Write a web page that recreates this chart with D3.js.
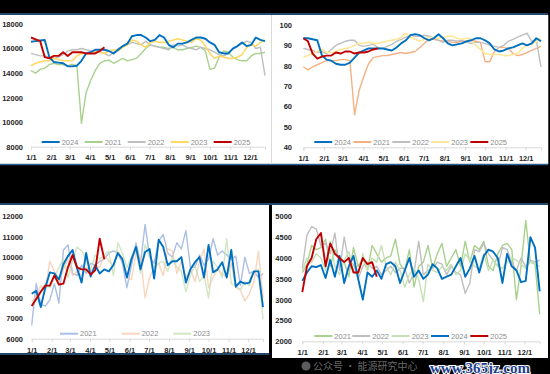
<!DOCTYPE html>
<html><head><meta charset="utf-8">
<script src="https://cdn.jsdelivr.net/npm/d3@7"></script>
<style>html,body{margin:0;padding:0;background:#000;}svg{display:block}</style>
</head><body>
<svg id="c" width="550" height="374"></svg>
<script>
// ---------- data ----------
const monthLabels = ["1/1","2/1","3/1","4/1","5/1","6/1","7/1","8/1","9/1","10/1","11/1","12/1"];
const monthStartDays = [0,31,59,90,120,151,181,212,243,273,304,334];

// Panel 1 (top-left)
const p1Ticks = [8000,10000,12000,14000,16000,18000];
const p1_2024 = [16550,16600,16650,16700,15300,14900,14850,14800,14550,14550,14600,15000,
  15600,15700,15900,15900,15900,15800,15600,15900,16200,16400,
  17000,17100,17100,16900,16600,16700,17100,16900,16300,16100,
  16400,16400,16500,16700,16900,16900,16800,16500,16300,15700,
  15600,15600,16000,16200,16500,16200,16300,16900,16700,16600];
const p1_2021 = [14200,14000,14300,14400,14700,14800,14700,14700,14600,14700,14600,9900,
  12400,13400,14200,14800,15000,15050,14800,15000,15200,15000,
  15100,15200,15600,16000,16300,16200,16100,16100,16000,16100,
  15900,15900,16000,16100,16200,16100,15800,14300,14400,15300,
  15800,15700,15300,15100,15000,15000,15400,15600,15600,15700];
const p1_2022 = [15600,15500,15400,15400,15300,15200,15300,15500,15800,15900,15900,16000,
  15900,15800,15800,15700,15600,15400,15700,16000,16200,16300,
  16500,16400,16300,16600,16300,16200,16100,16000,15900,16300,
  16200,16300,16100,16000,15900,16100,16000,15900,15700,15500,
  15400,15600,16000,16200,16400,16600,16500,16000,16100,13800];
const p1_2023 = [14600,14800,14900,15000,15000,15200,15100,15000,15000,15000,15400,15600,
  15600,15700,15700,15700,15600,15800,15900,15800,16100,16300,
  16700,16600,16300,16100,16500,16600,16500,16500,16600,16700,
  16800,16700,16600,16500,16800,16700,16200,15600,15200,15400,
  15300,15200,15200,15300,15500,16100,16300,16200,16500,16700];
const p1_2025 = [16900,16750,16600,15300,15200,15400,15400,15700,15400,15700,15700,15700,15600,15600,15600,15800,16100];

// Panel 2 (top-right)
const p2Ticks = [40,50,60,70,80,90,100];
const p2_2024 = [93.5,93.5,93,92.5,85,83,82.5,81,80.5,80.5,81.5,84,
  86.5,87.5,88.5,88.5,88.5,88.5,88,87.5,89,91,
  92.5,95,95.5,95,93.5,92.5,93.5,95.5,93.5,91,
  90,90.5,91,92,92.5,93.5,93.5,92.5,91,88,
  87,87.5,88.5,89,90,91,90,91,93.5,92];
const p2_2021 = [79.5,78,79.5,80.5,81.5,82.5,82.5,82.5,83,83,82.5,56,
  68,75,81,84,84.5,85,85,85.5,86,86.5,
  86,86.5,87,89,91,93,93,92.5,92,92,
  91.5,91.5,92,92,92.5,92,91.5,82,82,87,
  89,89,88.5,86,85,85.5,86.5,87.5,88.5,89.5];
const p2_2022 = [88.5,88,87.5,86.5,87,86,88,90,91,92,92.5,92.5,
  90,89.5,90,90.5,89,88.5,89.5,90.5,92,93,
  94,95,94.5,94.5,95,94.5,93.5,92.5,91.5,92.5,
  92.5,92,92.5,91.5,91,91.5,91.5,91,90,89.5,
  89,90,92,93,94,95,96,92,92.5,79.5];
const p2_2023 = [84,85,86,87,88,86.5,86.5,87,88,88.5,89,90,
  91,91,91.5,91,91,91.5,92,92.5,93,94,
  96,94,93,92,93,94,93.5,93.5,94,94.5,
  94.5,93.5,93,93.5,93,90,88,86,85.5,85.5,
  85.5,85,85,85.5,86,88.5,90,90.5,92,93.5];
const p2_2025 = [93.5,92,86,83.5,84.5,85,85,86.5,86,87,87,86,86.5,86.5,87,88,88.5];

// Panel 3 (bottom-left)
const p3Ticks = [6000,7000,8000,9000,10000,11000,12000];
const p3_2024 = [8200,8350,7550,8500,9250,9200,8900,9650,10050,10350,9450,8750,
  10200,9050,9600,9200,9400,9300,9600,10200,9900,9000,
  9900,10500,9400,10250,10400,8950,10850,10500,9600,9800,
  9800,10000,8750,9400,9750,10000,9000,10600,9250,9400,
  9750,9000,10350,8550,8800,8700,8750,9300,9300,7550];
const p3_2021 = [6650,8700,7700,7600,7900,8700,7750,10350,10600,9200,9100,9600,
  9200,9700,9600,9800,9900,10200,10300,10200,9700,8500,
  9600,10700,9700,11600,10000,9700,10800,11100,10200,10000,
  10700,10400,11300,9500,9500,10100,9600,9900,10900,10100,
  10300,10100,9900,10050,8600,10000,9200,9300,9000,9200];
const p3_2022 = [7800,8100,8600,8400,9800,9300,8700,9400,9900,9100,9300,9100,
  9500,9300,9600,9500,10100,9800,9600,10300,9800,9000,
  8900,10200,10000,8000,9000,9500,9700,9100,10400,10300,
  9200,9800,9000,9400,8800,9800,10400,8500,9000,9400,
  9200,9000,9700,8500,8400,7850,8200,8800,10300,8000];
const p3_2023 = [7600,8000,8300,8700,8500,9000,9500,9900,9000,9800,10500,10300,
  9900,9400,10100,9900,10100,10300,9100,10700,10200,9500,
  10000,10300,9200,10600,10000,9500,9700,9800,9300,10000,
  9500,9300,8300,9100,9600,8800,9100,8000,9800,9500,
  9000,10900,8700,8600,8400,8800,8600,9300,9400,6950];
const p3_2025 = [7600,7950,8300,8600,8600,9100,8650,8700,9500,10100,9500,9400,9400,9150,9350,10900,9900];

// Panel 4 (bottom-right)
const p4Ticks = [2000,2500,3000,3500,4000,4500,5000];
const p4_2024 = [3450,3650,3800,3780,3830,3520,3950,3550,4050,3400,3800,4050,
  3500,3000,3650,3550,3700,3500,3850,3900,3800,3400,
  3700,4000,3550,3700,3500,3600,3850,3750,3500,3550,
  3600,3800,4000,3550,3750,4050,3650,4050,4200,4150,
  4000,3400,4100,3800,3700,3420,3450,4500,4250,3200];
const p4_2021 = [3650,3850,4300,4200,4250,4450,3800,4200,4000,3900,3550,4250,
  3800,4000,3700,4300,4100,3900,4000,4050,4450,3850,
  3700,4200,3300,3800,3900,4300,3750,4100,4350,3800,
  4000,4200,3800,4400,3900,4300,4200,4400,3800,3700,
  4100,4300,4350,4200,3000,3800,4900,3900,3850,2650];
const p4_2022 = [3750,4550,4750,4700,4300,4350,4100,4600,3700,4500,3900,3850,
  3500,3800,3900,3750,3800,3600,3700,3800,3650,3750,
  3750,3400,3650,4400,3600,3700,3750,3900,3850,3600,
  3800,3650,3600,3150,3400,4200,4150,4350,4100,3950,
  3800,4250,4200,3900,3700,4000,3800,3950,3900,3950];
const p4_2023 = [3700,4000,3900,4100,4000,3700,4400,3800,3600,3950,4150,3700,
  3550,4100,3700,4000,3900,4300,3800,3600,3900,3700,
  3300,3600,3750,3500,2950,3850,3700,3650,3800,3700,
  3850,3600,3700,4100,3950,3800,3750,4100,3700,3950,
  3800,3750,3900,4000,3950,3850,3750,3900,3850,3800];
const p4_2025 = [3180,3800,4000,4450,4600,3800,4350,4100,4000,3900,4000,3650,3650,4000,3850,3900,3550];

// ---------- drawing ----------
const svg = d3.select("#c");
svg.append("rect").attr("width",550).attr("height",374).attr("fill","#000");
svg.append("rect").attr("x",0).attr("y",15).attr("width",548).attr("height",149).attr("fill","#fff");
svg.append("rect").attr("x",0).attr("y",205).attr("width",269).attr("height",148).attr("fill","#fff");
svg.append("rect").attr("x",272).attr("y",205).attr("width",276).attr("height",153).attr("fill","#fff");
const border = (x1,y1,x2,y2,c,w)=>svg.append("line").attr("x1",x1).attr("y1",y1).attr("x2",x2).attr("y2",y2).attr("stroke",c).attr("stroke-width",w);
border(0,14,548,14,"#2f5f8f",1.5);
border(0,164.5,548,164.5,"#2f5f8f",1.5);
border(0,204,548,204,"#2f5f8f",1.5);
border(0,354,269,354,"#2f5f8f",1.5);
border(271.5,15,271.5,164,"#d9d9d9",1);
border(548.5,15,548.5,164,"#444",1);

const monthWeeks = monthStartDays.map(d=>d/7);
const fmt = d3.format("d");

function panel(cfg){
  const x = d3.scaleLinear().domain([0,51]).range([cfg.x0,cfg.x1]);
  const y = d3.scaleLinear().domain(d3.extent(cfg.ticks)).range([cfg.yBottom,cfg.yTop]);
  const g = svg.append("g");
  const xa = g.append("g").attr("transform",`translate(0,${cfg.yBottom})`)
    .call(d3.axisBottom(x).tickValues(monthWeeks).tickFormat((d,i)=>monthLabels[i]).tickSize(3).tickPadding(cfg.xPad));
  xa.select(".domain").attr("stroke","#d9d9d9");
  xa.selectAll(".tick line").attr("stroke","#d9d9d9");
  xa.selectAll("text").attr("fill","#262626").attr("font-family","Liberation Sans, Arial, sans-serif").attr("font-size","7.5px").attr("font-weight","bold");
  const ya = g.append("g").attr("transform",`translate(${cfg.yLabelX},0)`)
    .call(d3.axisLeft(y).tickValues(cfg.ticks).tickFormat(fmt).tickSize(0).tickPadding(0));
  ya.select(".domain").remove();
  ya.selectAll("text").attr("fill","#262626").attr("font-family","Liberation Sans, Arial, sans-serif").attr("font-size","7.5px").attr("font-weight","bold");
  const line = d3.line().x((d,i)=>x(i)).y(d=>y(d));
  cfg.series.forEach(s=>{
    g.append("path").datum(s.values).attr("d",line).attr("fill","none")
      .attr("stroke",s.color).attr("stroke-width",s.width||1.4).attr("stroke-opacity",s.opacity||1)
      .attr("stroke-linejoin","round");
  });
  cfg.legend.forEach(item=>{
    const s = cfg.series.find(d=>d.name===item.name);
    const tx = item.tx;
    g.append("line").attr("x1",tx-20).attr("x2",tx-2).attr("y1",cfg.legendY).attr("y2",cfg.legendY)
      .attr("stroke",s.color).attr("stroke-width",2).attr("stroke-opacity",s.opacity||1);
    g.append("text").attr("x",tx).attr("y",cfg.legendY).attr("dy","0.35em").text(item.name)
      .attr("fill","#8c8c8c").attr("font-family","Liberation Sans, Arial, sans-serif").attr("font-size","7.5px");
  });
}

const blue="#0070C0", red="#C00000", grey="#BFBFBF";

panel({x0:31,x1:265,yTop:24,yBottom:146.7,yLabelX:23,xPad:5,ticks:p1Ticks,legendY:142,
  series:[
    {name:"2021",values:p1_2021,color:"#A9D18E"},
    {name:"2022",values:p1_2022,color:grey},
    {name:"2023",values:p1_2023,color:"#FFD966",width:1.6},
    {name:"2024",values:p1_2024,color:blue,width:1.9},
    {name:"2025",values:p1_2025,color:red,width:1.9}],
  legend:[{name:"2024",tx:61.7},{name:"2021",tx:104.7},{name:"2022",tx:147.7},{name:"2023",tx:190.7},{name:"2025",tx:233.7}]
});

panel({x0:303.3,x1:541,yTop:25,yBottom:147.3,yLabelX:292,xPad:5,ticks:p2Ticks,legendY:142,
  series:[
    {name:"2021",values:p2_2021,color:"#F4B183"},
    {name:"2022",values:p2_2022,color:grey},
    {name:"2023",values:p2_2023,color:"#FFE699",width:1.6},
    {name:"2024",values:p2_2024,color:blue,width:1.9},
    {name:"2025",values:p2_2025,color:red,width:1.9}],
  legend:[{name:"2024",tx:334.3},{name:"2021",tx:373.3},{name:"2022",tx:412.3},{name:"2023",tx:451.3},{name:"2025",tx:490.3}]
});

panel({x0:31.7,x1:263,yTop:216.3,yBottom:338.7,yLabelX:23,xPad:6,ticks:p3Ticks,legendY:333.7,
  series:[
    {name:"2021",values:p3_2021,color:"#8FAADC",opacity:0.75},
    {name:"2022",values:p3_2022,color:"#F8CBAD",opacity:0.8},
    {name:"2023",values:p3_2023,color:"#C5E0B4",opacity:0.8},
    {name:"2024",values:p3_2024,color:blue,width:1.9},
    {name:"2025",values:p3_2025,color:red,width:1.9}],
  legend:[{name:"2021",tx:80},{name:"2022",tx:141.7},{name:"2023",tx:193.3}]
});

panel({x0:302.3,x1:539.7,yTop:216.3,yBottom:341.3,yLabelX:292,xPad:5,ticks:p4Ticks,legendY:336,
  series:[
    {name:"2021",values:p4_2021,color:"#A9D18E"},
    {name:"2022",values:p4_2022,color:grey},
    {name:"2023",values:p4_2023,color:"#C5E0B4"},
    {name:"2024",values:p4_2024,color:blue,width:1.9},
    {name:"2025",values:p4_2025,color:red,width:1.9}],
  legend:[{name:"2021",tx:334.3},{name:"2022",tx:372.3},{name:"2023",tx:411.7},{name:"2024",tx:451},{name:"2025",tx:490.3}]
});

border(270.5,205,270.5,374,"#000",3);

// watermarks (kept clear of the axis labels)
svg.append("circle").attr("cx",306).attr("cy",366).attr("r",4.5).attr("fill","#9a9a9a").attr("fill-opacity",0.6);
svg.append("text").attr("x",313).attr("y",370).text("公众号 · 能源研究中心")
  .attr("font-family","Noto Sans CJK SC, sans-serif").attr("font-size","10px").attr("fill","#9a9a9a").attr("fill-opacity",0.7);
svg.append("text").attr("x",430).attr("y",372.5).text("www.365jz.com")
  .attr("font-family","Liberation Serif, serif").attr("font-weight","bold").attr("font-size","15px")
  .attr("fill","#1f3f8f").attr("stroke","#fff").attr("stroke-width",2).attr("paint-order","stroke");
</script>
</body></html>
